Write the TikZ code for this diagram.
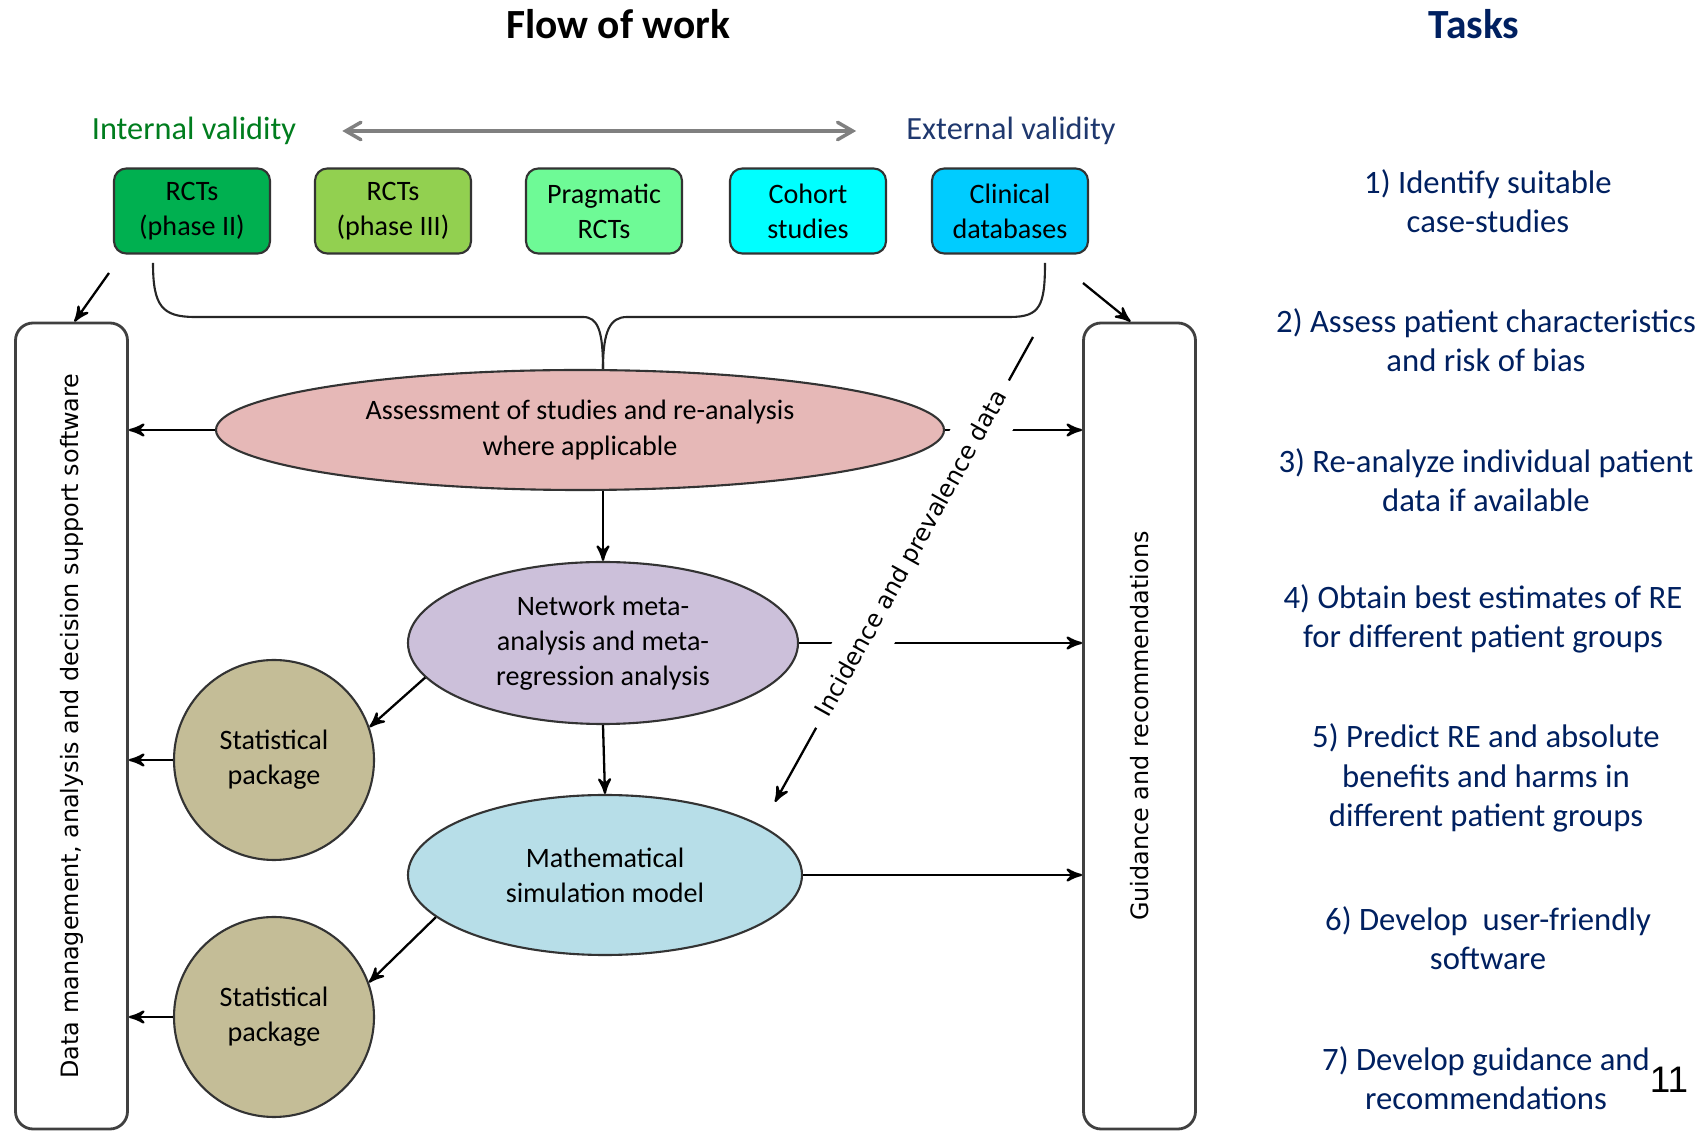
\documentclass[tikz,border=0pt]{standalone}
\usepackage{fontspec}
\setmainfont{Carlito}
\newfontfamily\dejavu{DejaVu Sans}
\newfontfamily\arialfont{Liberation Sans}
\usetikzlibrary{arrows,calc,shapes.geometric}

\definecolor{rcttwo}{RGB}{0,176,80}
\definecolor{rctthree}{RGB}{146,208,80}
\definecolor{pragfill}{RGB}{110,250,150}
\definecolor{cohortfill}{RGB}{0,255,255}
\definecolor{clinfill}{RGB}{0,204,255}
\definecolor{assessfill}{RGB}{230,184,183}
\definecolor{nmafill}{RGB}{204,192,218}
\definecolor{mathfill}{RGB}{183,222,232}
\definecolor{statfill}{RGB}{196,189,151}
\definecolor{intgreen}{RGB}{0,125,30}
\definecolor{extblue}{RGB}{31,56,110}
\definecolor{tasknavy}{RGB}{0,32,96}

\begin{document}
\begin{tikzpicture}[
    >=stealth',
    studybox/.style={draw=black!80, line width=0.6pt, rounded corners=3.5pt, minimum width=1.56cm, minimum height=0.85cm, align=center, inner sep=1pt, font=\fontsize{8}{10}\selectfont},
    stageell/.style={ellipse, draw=black!80, line width=0.6pt, inner sep=0pt, align=center, font=\fontsize{8}{10}\selectfont},
    statcirc/.style={circle, draw=black!80, fill=statfill, line width=0.6pt, minimum size=2cm, inner sep=0pt, align=center, font=\fontsize{8}{10}\selectfont},
    sidebox/.style={draw=black!75, line width=0.8pt, rounded corners=5pt, minimum width=1.12cm, minimum height=8.06cm},
    sidetext/.style={rotate=90, font=\dejavu\fontsize{6.8}{8}\selectfont},
    task/.style={text=tasknavy, align=center, font=\fontsize{9.3}{11.2}\selectfont},
    flow/.style={->, line width=0.65pt}
]

    \useasboundingbox (0,0) rectangle (17.05,11.31);

    % headings
    \node[font=\bfseries\fontsize{11.8}{14}\selectfont] (flowtitle) at (6.18,11.07) {Flow of work};
    \node[font=\bfseries\fontsize{11.8}{14}\selectfont, text=tasknavy] (tasktitle) at (14.74,11.07) {Tasks};

    \node[text=intgreen, font=\fontsize{9.2}{11}\selectfont, inner sep=1pt] (intv) at (1.94,10.00) {Internal validity};
    \node[text=extblue, font=\fontsize{9.2}{11}\selectfont, inner sep=1pt] (extv) at (10.11,10.00) {External validity};
    \draw[<->, >=angle 60, black!50, line width=1pt] ([xshift=0.42cm]intv.east) -- ([xshift=-0.46cm]extv.west);

    % study types
    \node[studybox, fill=rcttwo] (rct2) at (1.92,9.20) {RCTs\\(phase II)};
    \node[studybox, fill=rctthree] (rct3) at (3.93,9.20) {RCTs\\(phase III)};
    \node[studybox, fill=pragfill] (prag) at (6.04,9.20) {Pragmatic\\RCTs};
    \node[studybox, fill=cohortfill] (cohort) at (8.08,9.20) {Cohort\\studies};
    \node[studybox, fill=clinfill] (clin) at (10.10,9.20) {Clinical\\databases};

    % side columns
    \node[sidebox, label={[sidetext]center:{Data management, analysis and decision support software}}] (dm) at (0.715,4.05) {};
    \node[sidebox, label={[sidetext]center:{Guidance and recommendations}}] (guide) at (11.395,4.05) {};

    % analysis steps
    \node[stageell, fill=assessfill, minimum width=7.28cm, minimum height=1.20cm] (assess) at (5.80,7.01) {Assessment of studies and re-analysis\\where applicable};
    \node[stageell, fill=nmafill, minimum width=3.90cm, minimum height=1.62cm] (nma) at (6.03,4.88) {Network meta-\\analysis and meta-\\regression analysis};
    \node[stageell, fill=mathfill, minimum width=3.94cm, minimum height=1.60cm] (mathmod) at (6.05,2.56) {Mathematical\\simulation model};
    \node[statcirc] (stat1) at (2.74,3.71) {Statistical\\package};
    \node[statcirc] (stat2) at (2.74,1.14) {Statistical\\package};

    % tasks
    \node[task] (t1) at (14.88,9.30) {1) Identify suitable\\case-studies};
    \node[task] (t2) at (14.86,7.91) {2) Assess patient characteristics\\and risk of bias};
    \node[task] (t3) at (14.86,6.51) {3) Re-analyze individual patient\\data if available};
    \node[task] (t4) at (14.83,5.12) {4) Obtain best estimates of RE\\for different patient groups};
    \node[task] (t5) at (14.86,3.53) {5) Predict RE and absolute\\benefits and harms in\\different patient groups};
    \node[task] (t6) at (14.88,1.93) {6) Develop\ \ user-friendly\\software};
    \node[task] (t7) at (14.86,0.53) {7) Develop guidance and\\recommendations};
    \node[font=\arialfont\fontsize{10.5}{12}\selectfont] (pagenum) at (16.69,0.51) {11};

    % brace from the studies to the assessment
    \coordinate (braceL) at (1.53,8.68);
    \coordinate (braceR) at (10.45,8.68);
    \coordinate (braceTip) at (assess.north -| nma.north);
    \draw[line width=0.6pt, black!85] (braceL) .. controls (1.53,8.25) and (1.62,8.14) .. (1.95,8.14) -- (5.83,8.14) .. controls (5.98,8.14) and (6.03,8.0) .. (braceTip);
    \draw[line width=0.6pt, black!85] (braceTip) .. controls (6.03,8.0) and (6.10,8.14) .. (6.27,8.14) -- (10.10,8.14) .. controls (10.40,8.14) and (10.45,8.25) .. (braceR);

    % arrows into the side columns
    \coordinate (dmIn) at (1.09,8.58);
    \coordinate (guideIn) at (10.83,8.48);
    \draw[flow] (dmIn) -- ([xshift=0.03cm]dm.north);
    \draw[flow] (guideIn) -- ([xshift=-0.09cm]guide.north);

    \draw[flow] (assess.west) -- (assess.west -| dm.east);
    \draw[flow] (stat1.west) -- (stat1.west -| dm.east);
    \draw[flow] (stat2.west) -- (stat2.west -| dm.east);

    \draw[flow] (assess.east) -- (assess.east -| guide.west);
    \draw[flow] (nma.east) -- (nma.east -| guide.west);
    \draw[flow] (mathmod.east) -- (mathmod.east -| guide.west);

    \draw[flow] (nma.north |- assess.south) -- (nma.north);
    \draw[flow] (nma.south) -- (mathmod.north);
    \draw[flow] (nma.191) -- (stat1.19);
    \draw[flow] (mathmod.194) -- (stat2.20);

    % incidence data
    \coordinate (incTop) at (10.33,7.94);
    \coordinate (incTip) at (7.75,3.29);
    \draw[flow] (incTop) -- node[pos=0.467, sloped, fill=white, inner xsep=4pt, inner ysep=4.5pt, font=\dejavu\fontsize{6.8}{8}\selectfont] (incText) {Incidence and prevalence data} (incTip);

\end{tikzpicture}
\end{document}
